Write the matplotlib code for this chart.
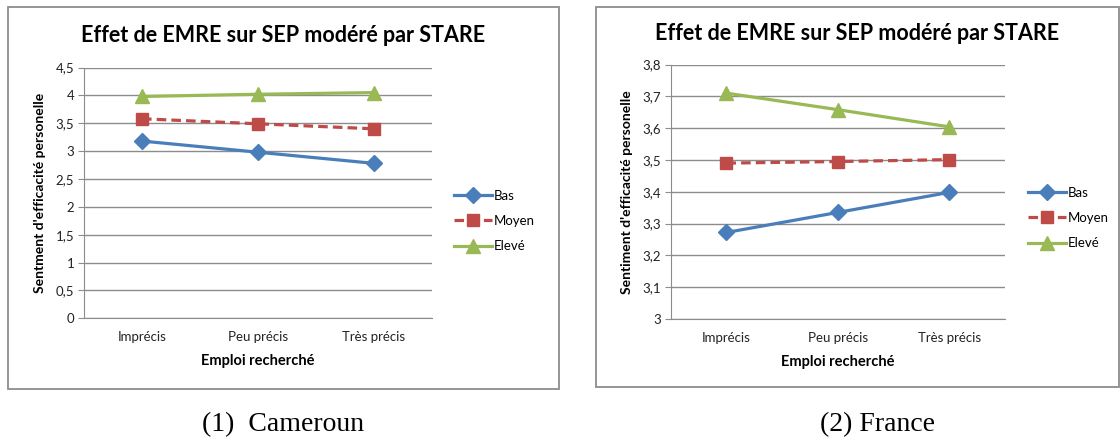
import numpy as np
import matplotlib
matplotlib.use("Agg")
from matplotlib import pyplot as plt
from matplotlib.patches import Rectangle

categories = ["Imprécis", "Peu précis", "Très précis"]
series_names = ["Bas", "Moyen", "Elevé"]

cameroun_bas = [3.18, 2.98, 2.78]
cameroun_moyen = [3.58, 3.49, 3.40]
cameroun_eleve = [3.98, 4.02, 4.05]

france_bas = [3.272, 3.335, 3.398]
france_moyen = [3.490, 3.495, 3.501]
france_eleve = [3.710, 3.658, 3.604]

cameroun_ticks = [0, 0.5, 1, 1.5, 2, 2.5, 3, 3.5, 4, 4.5]
france_ticks = [3, 3.1, 3.2, 3.3, 3.4, 3.5, 3.6, 3.7, 3.8]

title = "Effet de EMRE sur SEP modéré par STARE"
xlabel = "Emploi recherché"

plt.rcParams['font.family'] = ['Lato', 'DejaVu Sans']

W, H = 1120, 441
fig = plt.figure(figsize=(W / 100, H / 100), dpi=100)

GRID = "#8c8c8c"
styles = [
    dict(color="#4a7ebb", marker="D", markersize=8.5, linestyle="-"),
    dict(color="#be4b48", marker="s", markersize=8.5, linestyle=(0, (3, 1.6))),
    dict(color="#98b954", marker="^", markersize=10, linestyle="-"),
]


def px(x, y):
    return x / W, 1 - y / H


def panel(rect_px, box_px, data, ticks, ylabel, fmt, title_y, legend_px):
    x0, ytop, x1, ybot = rect_px
    ax = fig.add_axes([x0 / W, 1 - ybot / H, (x1 - x0) / W, (ybot - ytop) / H])
    x = np.arange(len(categories))
    for vals, name, st in zip(data, series_names, styles):
        ax.plot(x, vals, label=name, linewidth=2.3, **st)
    ax.set_xlim(-0.5, len(categories) - 0.5)
    ax.set_ylim(ticks[0], ticks[-1])
    ax.set_yticks(ticks, labels=[fmt(t) for t in ticks])
    ax.set_xticks(x, labels=categories)
    ax.yaxis.grid(True, color=GRID, linewidth=1.0)
    ax.set_axisbelow(True)
    for s in ["top", "right"]:
        ax.spines[s].set_visible(False)
    ax.spines["left"].set_color(GRID)
    ax.spines["bottom"].set_color(GRID)
    ax.tick_params(axis="y", length=4, color=GRID, labelsize=9.5, labelcolor="#222222", pad=3)
    ax.tick_params(axis="x", length=0, labelsize=9.5, labelcolor="#222222", pad=9)
    ax.set_xlabel(xlabel, fontsize=10.5, fontweight="bold", labelpad=8)
    ax.set_ylabel(ylabel, fontsize=10, fontweight="bold", labelpad=7)

    bx0, by0, bx1, by1 = box_px
    fig.patches.append(Rectangle(px(bx0, by1), (bx1 - bx0) / W, (by1 - by0) / H,
                                 transform=fig.transFigure, fill=False,
                                 edgecolor="#8c8c8c", linewidth=1.3))
    fig.text((bx0 + bx1) / 2 / W, 1 - title_y / H, title, ha="center", va="center",
             fontsize=15.5, fontweight="bold")
    lx, ly = legend_px
    ax.legend(loc="center left", bbox_to_anchor=px(lx, ly), bbox_transform=fig.transFigure,
              frameon=False, fontsize=9.5, handlelength=2.9, handletextpad=0.15,
              labelspacing=1.0, borderpad=0, borderaxespad=0)
    return ax


panel((84, 67.5, 432, 318.3), (8, 7, 559, 389),
      [cameroun_bas, cameroun_moyen, cameroun_eleve], cameroun_ticks,
      "Sentment d'efficacité personelle",
      lambda t: f"{t:g}".replace(".", ","), 35, (454, 221))

panel((670.7, 64.5, 1005, 319), (596, 7, 1119, 387),
      [france_bas, france_moyen, france_eleve], france_ticks,
      "Sentiment d'efficacité personelle",
      lambda t: f"{t:.1f}".replace(".", ",") if t != 3 else "3", 33, (1028, 218))

fig.text(283 / W, 1 - 425 / H, "(1)  Cameroun", ha="center", va="center",
         fontsize=20, family="Liberation Serif")
fig.text(877 / W, 1 - 425 / H, "(2) France", ha="center", va="center",
         fontsize=20, family="Liberation Serif")

fig.savefig("out.png", dpi=100, facecolor="white")
